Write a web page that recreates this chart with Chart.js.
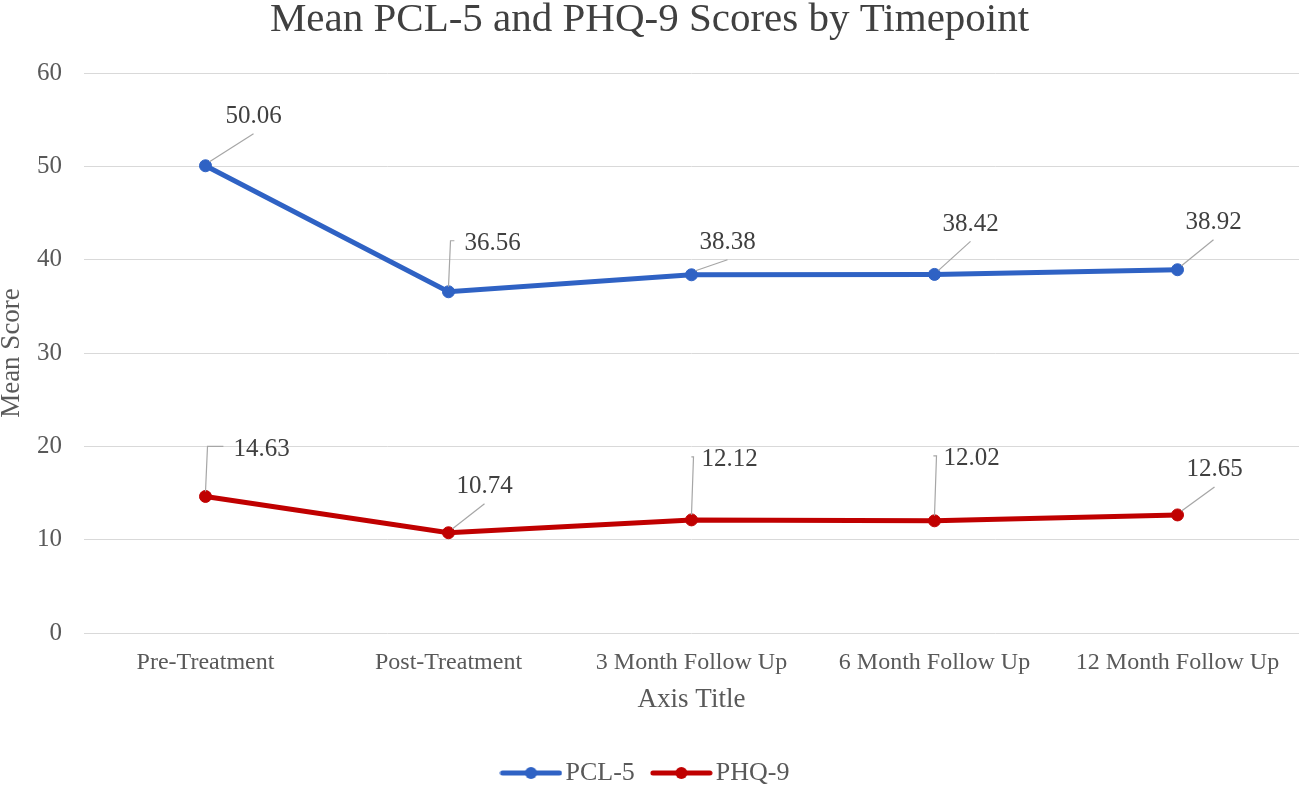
<!DOCTYPE html>
<html>
<head>
<meta charset="utf-8">
<script src="https://cdn.jsdelivr.net/npm/chart.js@4.4.1/dist/chart.umd.min.js"></script>
<style>
  html, body { margin: 0; padding: 0; background: #fff; }
  #wrap { width: 1299px; height: 787px; }
</style>
</head>
<body>
<div id="wrap"><canvas id="scoreChart" width="1299" height="787"></canvas></div>
<script>
// data
var timepoints = ['Pre-Treatment', 'Post-Treatment', '3 Month Follow Up', '6 Month Follow Up', '12 Month Follow Up'];
var pclScores = [50.06, 36.56, 38.38, 38.42, 38.92];
var phqScores = [14.63, 10.74, 12.12, 12.02, 12.65];
var yTicks = [0, 10, 20, 30, 40, 50, 60];

var SERIF = '"Liberation Serif", "Times New Roman", "DejaVu Serif", serif';
var BLUE = '#2f62c4';
var RED = '#c00000';

// label placement relative to each point: [dx, dy, leader kind]
var labelPlacement = [
    [[48, -49, 'diag'], [44, -48, 'elbow'], [36, -32, 'diag'], [36, -50, 'diag'], [36, -47, 'diag']],
    [[56, -47, 'elbow'], [36, -46, 'diag'], [38, -60, 'elbow'], [37, -62, 'elbow'], [37, -45, 'diag']]
];

// legend swatch: line with a dot in the middle
function swatch(color) {
    var c = document.createElement('canvas');
    c.width = 63; c.height = 14;
    var g = c.getContext('2d');
    g.strokeStyle = color;
    g.lineWidth = 5;
    g.lineCap = 'round';
    g.beginPath(); g.moveTo(3, 7); g.lineTo(60, 7); g.stroke();
    g.fillStyle = color;
    g.beginPath(); g.arc(31.5, 7, 6, 0, Math.PI * 2); g.fill();
    return c;
}

var dataLabels = {
    id: 'dataLabels',
    afterDatasetsDraw: function(chart) {
        var ctx = chart.ctx;
        ctx.save();
        ctx.font = '25px ' + SERIF;
        ctx.textAlign = 'center';
        ctx.textBaseline = 'middle';
        chart.data.datasets.forEach(function(ds, di) {
            var meta = chart.getDatasetMeta(di);
            meta.data.forEach(function(pt, i) {
                var p = labelPlacement[di][i];
                var txt = ds.data[i].toFixed(2);
                var w = ctx.measureText(txt).width;
                var lx = pt.x + p[0], ly = pt.y + p[1];
                ctx.strokeStyle = '#a6a6a6';
                ctx.lineWidth = 1.2;
                ctx.beginPath();
                if (p[2] === 'elbow') {
                    ctx.moveTo(pt.x, pt.y - 5);
                    ctx.lineTo(pt.x + 2, ly - 3);
                    ctx.lineTo(lx - w / 2 - 10, ly - 3);
                } else {
                    ctx.moveTo(pt.x + 4, pt.y - 4);
                    ctx.lineTo(lx, ly + 17);
                }
                ctx.stroke();
                ctx.fillStyle = '#404040';
                ctx.fillText(txt, lx, ly);
            });
        });
        ctx.restore();
    }
};

var ctx = document.getElementById('scoreChart').getContext('2d');
var scoreChart = new Chart(ctx, {
    type: 'line',
    data: {
        labels: timepoints,
        datasets: [
            {
                label: 'PCL-5',
                data: pclScores,
                borderColor: BLUE,
                backgroundColor: BLUE,
                borderWidth: 5,
                pointRadius: 6,
                pointBorderWidth: 1,
                pointBackgroundColor: BLUE,
                pointBorderColor: BLUE,
                tension: 0
            },
            {
                label: 'PHQ-9',
                data: phqScores,
                borderColor: RED,
                backgroundColor: RED,
                borderWidth: 5,
                pointRadius: 6,
                pointBorderWidth: 1,
                pointBackgroundColor: RED,
                pointBorderColor: RED,
                tension: 0
            }
        ]
    },
    options: {
        responsive: false,
        animation: false,
        layout: { autoPadding: false, padding: { left: 0, right: 0, top: 0, bottom: -9 } },
        plugins: {
            title: {
                display: true,
                text: 'Mean PCL-5 and PHQ-9 Scores by Timepoint',
                color: '#404040',
                font: { family: SERIF, size: 41, weight: 'normal', lineHeight: 1 },
                padding: { top: 0, bottom: 32 }
            },
            legend: {
                position: 'bottom',
                labels: {
                    usePointStyle: true,
                    pointStyleWidth: 43,
                    padding: 25,
                    color: '#595959',
                    font: { family: SERIF, size: 26 },
                    generateLabels: function(chart) {
                        return chart.data.datasets.map(function(ds, i) {
                            return {
                                text: ds.label,
                                pointStyle: swatch(ds.borderColor),
                                fillStyle: ds.borderColor,
                                strokeStyle: ds.borderColor,
                                lineWidth: 0,
                                fontColor: '#595959',
                                hidden: false,
                                datasetIndex: i
                            };
                        });
                    }
                }
            },
            tooltip: { enabled: false }
        },
        scales: {
            x: {
                offset: true,
                afterFit: function(scale) {
                    scale.height = 102;
                    scale.paddingLeft = 0;
                    scale.paddingRight = 0;
                },
                grid: { display: false, drawTicks: false },
                border: { display: false },
                ticks: {
                    color: '#595959',
                    font: { family: SERIF, size: 24 },
                    padding: 15,
                    maxRotation: 0,
                    autoSkip: false
                },
                title: {
                    display: true,
                    text: 'Axis Title',
                    color: '#595959',
                    font: { family: SERIF, size: 27 },
                    padding: { top: 8, bottom: 19 }
                }
            },
            y: {
                min: yTicks[0],
                max: yTicks[yTicks.length - 1],
                afterBuildTicks: function(scale) {
                    scale.ticks = yTicks.map(function(v) { return { value: v }; });
                },
                afterFit: function(scale) { scale.width = 84; },
                grid: { color: '#d9d9d9', lineWidth: 1, drawTicks: false },
                border: { display: false },
                ticks: {
                    color: '#595959',
                    font: { family: SERIF, size: 25 },
                    padding: 22
                },
                title: {
                    display: true,
                    text: 'Mean Score',
                    color: '#595959',
                    font: { family: SERIF, size: 27 },
                    padding: { top: -4, bottom: 0 }
                }
            }
        }
    },
    plugins: [dataLabels]
});
</script>
</body>
</html>
